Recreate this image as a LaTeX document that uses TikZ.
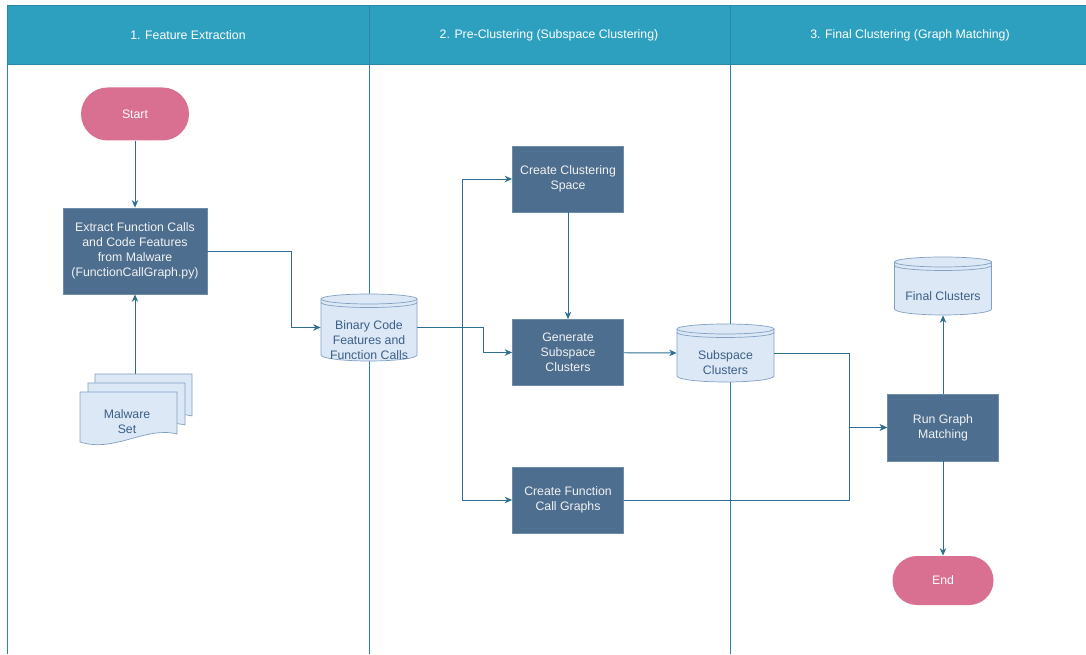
\documentclass[tikz,border=0pt]{standalone}
\usepackage{fontspec}
\setmainfont{Liberation Sans}
\usetikzlibrary{arrows.meta,positioning,calc}
\definecolor{headTeal}{RGB}{46,160,191}
\definecolor{laneLine}{RGB}{40,135,165}
\definecolor{boxBlue}{RGB}{77,110,143}
\definecolor{boxEdge}{RGB}{110,140,170}
\definecolor{boxText}{RGB}{242,242,242}
\definecolor{termPink}{RGB}{218,112,145}
\definecolor{flowBlue}{RGB}{45,110,145}
\definecolor{docFill}{RGB}{220,232,245}
\definecolor{docEdge}{RGB}{130,160,195}
\definecolor{docText}{RGB}{60,95,135}

% stacked document page, top left corner at (#1,#2)
\newcommand{\docpage}[2]{%
  \filldraw[docpg] (#1,#2) -- (#1+1.94,#2) -- (#1+1.94,#2-0.84)
    .. controls (#1+1.3,#2-0.68) and (#1+0.7,#2-1.22) .. (#1,#2-1.0) -- cycle;}

% database cylinder: [text drop], name, x, y, half width, half height, label
\newcommand{\dbcyl}[7][0.2]{%
  \filldraw[dbbody] (#3-#5,#4+#6-0.1) -- (#3-#5,#4-#6+0.12)
    arc[start angle=180, end angle=360, x radius=#5, y radius=0.12]
    -- (#3+#5,#4+#6-0.1)
    arc[start angle=0, end angle=180, x radius=#5, y radius=0.1] -- cycle;
  \draw[dbbody, fill=none] (#3-#5,#4+#6-0.1) arc[start angle=180, end angle=360, x radius=#5, y radius=0.1];
  \draw[dbbody, fill=none] (#3-#5,#4+#6-0.17) arc[start angle=180, end angle=360, x radius=#5, y radius=0.1];
  \node[inner sep=0pt, minimum width={2*#5cm}, minimum height={2*#6cm}] (#2) at (#3,#4) {};
  \node[dbtext] (#2-txt) at (#3,#4-#1) {#7};}

\begin{document}
\begin{tikzpicture}[
  proc/.style={draw=boxEdge, line width=0.4pt, fill=boxBlue, text=boxText, minimum width=2.22cm, minimum height=1.32cm, align=center, inner sep=1pt, font=\fontsize{7}{8.5}\selectfont},
  term/.style={fill=termPink, text=white, minimum width=2.16cm, minimum height=1.06cm, rounded corners=0.53cm, font=\fontsize{7}{8.5}\selectfont},
  lanehd/.style={text=white, font=\fontsize{7}{8.5}\selectfont},
  lane/.style={draw=laneLine, line width=0.5pt},
  arr/.style={-{Stealth[length=1.5mm, width=1.3mm]}, line width=0.55pt, draw=flowBlue},
  docpg/.style={fill=docFill, draw=docEdge, line width=0.4pt},
  dbbody/.style={fill=docFill, draw=docEdge, line width=0.4pt},
  dbtext/.style={text=docText, align=center, font=\fontsize{7}{8.5}\selectfont}
]
  \useasboundingbox (0,0) rectangle (21.72,13.08);

  % swim lanes
  \filldraw[fill=headTeal, draw=laneLine, line width=0.5pt] (0.14,11.80) rectangle (21.72,12.98);
  \draw[lane] (0.14,12.98) -- (0.14,0);
  \draw[lane] (7.38,12.98) -- (7.38,0);
  \draw[lane] (14.60,12.98) -- (14.60,0);
  \node[lanehd] (h1) at (3.76,12.38) {1. Feature Extraction};
  \node[lanehd] (h2) at (10.98,12.38) {2. Pre-Clustering (Subspace Clustering)};
  \node[lanehd] (h3) at (18.20,12.38) {3. Final Clustering (Graph Matching)};

  % lane 1: feature extraction
  \node[term] (start) at (2.70,10.80) {Start};
  \node[proc, minimum width=2.88cm, minimum height=1.72cm] (extract) at (2.70,8.06)
    {Extract Function Calls\\and Code Features\\from Malware\\(FunctionCallGraph.py)};
  \docpage{1.90}{5.60}
  \docpage{1.76}{5.42}
  \docpage{1.60}{5.24}
  \node[dbtext] (mal) at (2.54,4.64) {Malware\\Set};
  \coordinate (maltop) at (2.70,5.60);

  \draw[arr] (start) -- (extract);
  \draw[arr] (maltop) -- (extract.south);

  % lane 2: pre-clustering
  \dbcyl[0.26]{bin}{7.38}{6.53}{0.96}{0.67}{Binary Code\\Features and\\Function Calls}
  \node[proc] (space) at (11.36,9.50) {Create Clustering\\Space};
  \node[proc] (gen) at (11.36,6.03) {Generate\\Subspace\\Clusters};
  \node[proc] (fcg) at (11.36,3.08) {Create Function\\Call Graphs};

  \draw[arr] (extract.east) -- ++(1.68,0) |- (bin.west);
  \draw[arr] (bin.east) -- ++(1.32,0) |- (gen.west);
  \draw[arr] (bin.east) -- ++(0.91,0) |- (space.west);
  \draw[arr] (bin.east) -- ++(0.91,0) |- (fcg.west);
  \draw[arr] (space) -- (gen);

  % lane 3: final clustering
  \dbcyl{sub}{14.51}{6.02}{0.97}{0.58}{Subspace\\Clusters}
  \dbcyl{final}{18.86}{7.36}{0.97}{0.58}{Final Clusters}
  \node[proc, minimum height=1.34cm] (run) at (18.86,4.53) {Run Graph\\Matching};
  \node[term, minimum width=2.02cm, minimum height=0.98cm, rounded corners=0.49cm] (end) at (18.86,1.47) {End};

  \draw[arr] (gen) -- (sub.west);
  \draw[arr] (sub.east) -- ++(1.50,0) |- (run.west);
  \draw[arr] (fcg.east) -- ++(4.51,0) |- (run.west);
  \draw[arr] (run) -- (final.south);
  \draw[arr] (run) -- (end);
\end{tikzpicture}
\end{document}
